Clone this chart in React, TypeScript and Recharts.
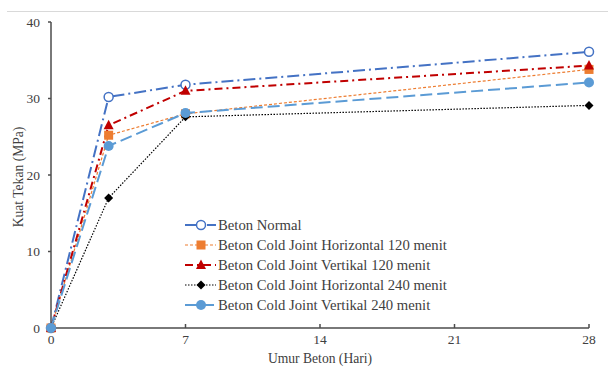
import React from 'react';
import { LineChart, Line, XAxis, YAxis } from 'recharts';

const days = [0, 3, 7, 28];
const betonNormal = [0, 30.2, 31.8, 36.1];
const horizontal120 = [0, 25.2, 28.0, 33.8];
const vertikal120 = [0, 26.5, 31.0, 34.3];
const horizontal240 = [0, 17.0, 27.6, 29.1];
const vertikal240 = [0, 23.8, 28.1, 32.1];
const xTicks = [0, 7, 14, 21, 28];
const yTicks = [0, 10, 20, 30, 40];

const data = days.map((d, i) => ({
  day: d,
  normal: betonNormal[i],
  h120: horizontal120[i],
  v120: vertikal120[i],
  h240: horizontal240[i],
  v240: vertikal240[i],
}));

const FONT = '"Liberation Serif", "Times New Roman", serif';
const TEXT = '#404040';
const AXIS = '#4d4d4d';

type Shape = 'openCircle' | 'square' | 'triangle' | 'diamond' | 'circle';

const drawMarker = (shape: Shape, cx: number, cy: number, color: string) => {
  switch (shape) {
    case 'openCircle':
      return <circle cx={cx} cy={cy} r={4.5} fill="#fff" stroke={color} strokeWidth={1.5} />;
    case 'square':
      return <rect x={cx - 4.5} y={cy - 4.5} width={9} height={9} fill={color} />;
    case 'triangle':
      return <polygon points={`${cx},${cy - 5.5} ${cx + 5},${cy + 4} ${cx - 5},${cy + 4}`} fill={color} />;
    case 'diamond':
      return <polygon points={`${cx},${cy - 4.5} ${cx + 4.5},${cy} ${cx},${cy + 4.5} ${cx - 4.5},${cy}`} fill={color} />;
    default:
      return <circle cx={cx} cy={cy} r={5} fill={color} />;
  }
};

const series = [
  { key: 'normal', name: 'Beton Normal', color: '#4472C4', dash: '12 4 2 4', width: 2, shape: 'openCircle' as Shape },
  { key: 'h120', name: 'Beton Cold Joint Horizontal 120 menit', color: '#ED7D31', dash: '3 2', width: 1.2, shape: 'square' as Shape },
  { key: 'v120', name: 'Beton Cold Joint Vertikal 120 menit', color: '#C00000', dash: '8 4 2 4', width: 2, shape: 'triangle' as Shape },
  { key: 'h240', name: 'Beton Cold Joint Horizontal 240 menit', color: '#000000', dash: '1.5 1.5', width: 1.2, shape: 'diamond' as Shape },
  { key: 'v240', name: 'Beton Cold Joint Vertikal 240 menit', color: '#5B9BD5', dash: '12 5', width: 2, shape: 'circle' as Shape },
];

const LegendBox = () => (
  <div style={{ position: 'absolute', left: 184, top: 215, fontFamily: FONT, fontSize: 14.7, color: TEXT }}>
    {series.map((s) => (
      <div key={s.key} style={{ display: 'flex', alignItems: 'center', height: 20, whiteSpace: 'nowrap' }}>
        <svg width={33} height={14} style={{ marginRight: 1 }}>
          <line x1={1} y1={7} x2={32} y2={7} stroke={s.color} strokeWidth={s.width} strokeDasharray={s.dash} />
          {drawMarker(s.shape, 17, 7, s.color)}
        </svg>
        <span>{s.name}</span>
      </div>
    ))}
  </div>
);

export default function App() {
  return (
    <div style={{ position: 'fixed', left: 0, top: 0, width: 608, height: 367, background: '#fff' }}>
      <div style={{ position: 'absolute', left: 7, top: 11, width: 601, height: 1, background: '#d9d9d9' }} />
      <LineChart width={608} height={367} data={data} margin={{ top: 22, right: 19, left: 11, bottom: 0 }}>
        <XAxis
          dataKey="day"
          type="number"
          domain={[0, 28]}
          ticks={xTicks}
          stroke={AXIS}
          strokeWidth={1.5}
          tickSize={-4}
          tickMargin={10}
          height={39}
          tick={{ fill: TEXT, fontSize: 13.5, fontFamily: FONT }}
          label={{ value: 'Umur Beton (Hari)', position: 'insideBottom', offset: 4, fill: TEXT, fontSize: 13.6, fontFamily: FONT }}
        />
        <YAxis
          type="number"
          domain={[0, 40]}
          ticks={yTicks}
          stroke={AXIS}
          strokeWidth={1.5}
          tickSize={3}
          tickMargin={8}
          width={40}
          tick={{ fill: TEXT, fontSize: 13.5, fontFamily: FONT }}
          label={{
            content: (p: any) => {
              const vb = p.viewBox || { x: 11, y: 22, width: 40, height: 306 };
              const x = 18;
              const y = vb.y + vb.height / 2 + 2;
              return (
                <text x={x} y={y} transform={`rotate(-90, ${x}, ${y})`} textAnchor="middle" dominantBaseline="central" fill={TEXT} fontSize={13.6} fontFamily={FONT}>
                  Kuat Tekan (MPa)
                </text>
              );
            },
          }}
        />
        {series.map((s) => (
          <Line
            key={s.key}
            dataKey={s.key}
            name={s.name}
            type="linear"
            stroke={s.color}
            strokeWidth={s.width}
            strokeDasharray={s.dash}
            isAnimationActive={false}
            dot={(p: any) => <g key={`${s.key}-${p.index}`}>{drawMarker(s.shape, p.cx, p.cy, s.color)}</g>}
            activeDot={false}
          />
        ))}
      </LineChart>
      <LegendBox />
    </div>
  );
}
